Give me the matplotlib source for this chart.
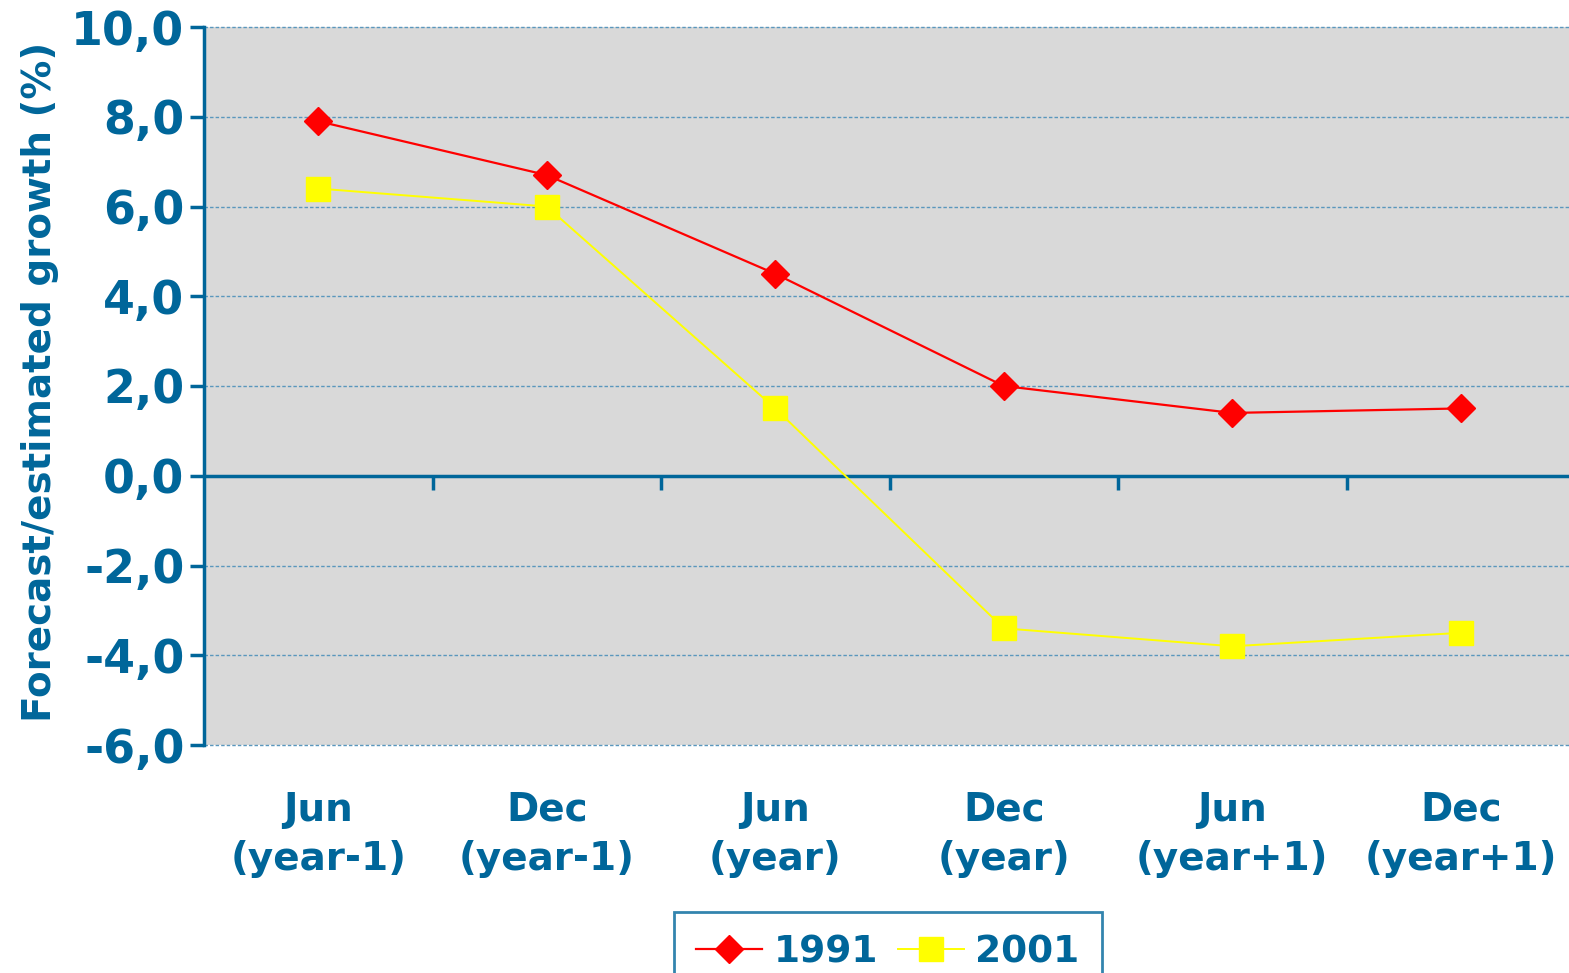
import matplotlib
matplotlib.use("Agg")
import matplotlib.pyplot as plt
import matplotlib.transforms as mtransforms

categories = ["Jun\n(year-1)", "Dec\n(year-1)", "Jun\n(year)", "Dec\n(year)", "Jun\n(year+1)", "Dec\n(year+1)"]
growth_1991 = [7.9, 6.7, 4.5, 2.0, 1.4, 1.5]
growth_2001 = [6.4, 6.0, 1.5, -3.4, -3.8, -3.5]
yticks = [-6, -4, -2, 0, 2, 4, 6, 8, 10]

blue = "#00669a"
W, H = 1569, 973

plt.rcParams["font.family"] = "DejaVu Sans"
plt.rcParams["font.weight"] = "bold"

fig = plt.figure(figsize=(W / 100, H / 100), dpi=100)
# plot area runs a little past the right edge of the picture
ax = fig.add_axes([204 / W, (H - 745) / H, 1371 / W, 718 / H])
ax.set_facecolor("#d9d9d9")

x = list(range(len(categories)))
ax.plot(x, growth_1991, color="#ff0000", lw=1.6, marker="D", ms=14.5,
        mec="#ff0000", mfc="#ff0000", label="1991", zorder=4)
ax.plot(x, growth_2001, color="#ffff00", lw=1.4, marker="s", ms=17,
        mec="#ffff00", mfc="#ffff00", label="2001", zorder=3)

ax.set_xlim(-0.5, len(categories) - 0.5)
ax.set_ylim(-6, 10)

# horizontal dashed grid
for yv in yticks:
    if yv != 0:
        ax.axhline(yv, color="#5a97bd", lw=1.0, ls=(0, (2.5, 1.5)), zorder=1, clip_on=False)
ax.axhline(0, color=blue, lw=2.5, zorder=2)

ax.set_yticks(yticks)
ax.set_yticklabels([f"{v:.1f}".replace(".", ",") for v in yticks], fontsize=33,
                   color=blue, fontweight="bold")
ax.tick_params(axis="y", direction="out", length=10, width=2.5, color=blue, pad=4)

# category boundary ticks hanging below the zero line
ax.spines["bottom"].set_position(("data", 0))
ax.spines["bottom"].set_visible(False)
ax.set_xticks([i + 0.5 for i in x[:-1]])
ax.set_xticklabels([])
ax.tick_params(axis="x", direction="out", length=10, width=2.5, color=blue)

for s in ["top", "right"]:
    ax.spines[s].set_visible(False)
ax.spines["left"].set_color(blue)
ax.spines["left"].set_linewidth(2.5)

trans = mtransforms.blended_transform_factory(ax.transData, ax.transAxes)
for i, lab in enumerate(categories):
    ax.text(i, -0.064, lab, transform=trans, ha="center", va="top", fontsize=28,
            color=blue, fontweight="bold", linespacing=1.38)

fig.text(40 / W, 1 - 382 / H, "Forecast/estimated growth (%)", rotation=90,
         ha="center", va="center", fontsize=28, color=blue, fontweight="bold")

leg = fig.legend(loc="upper center", bbox_to_anchor=(888 / W, 1 - 912 / H), ncol=2,
                 frameon=True, fancybox=False, fontsize=27, handlelength=1.75,
                 columnspacing=0.55, handletextpad=0.3, borderpad=0.6,
                 borderaxespad=0)
leg.get_frame().set_edgecolor(blue)
leg.get_frame().set_linewidth(2)
for t in leg.get_texts():
    t.set_color(blue)
    t.set_fontweight("bold")

fig.savefig("out.png", dpi=100)
